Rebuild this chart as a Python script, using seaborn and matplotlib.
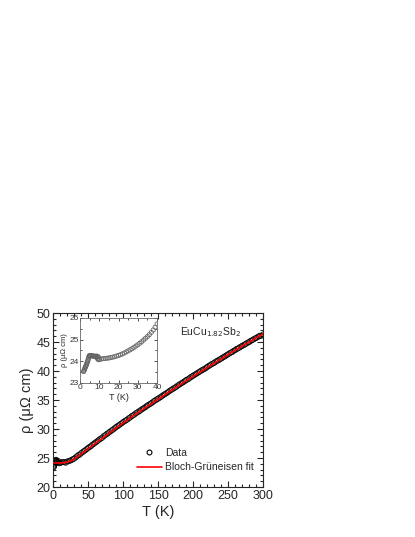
import numpy as np
import pandas as pd
import matplotlib
matplotlib.use("Agg")
import matplotlib.pyplot as plt
from matplotlib.ticker import MultipleLocator
from matplotlib.lines import Line2D
import seaborn as sns

# main panel: measured resistivity
data_T = [0.5, 1, 1.5, 2, 2.5, 3, 3.5, 4, 4.5, 5, 5.5, 6, 7, 8, 9, 10,
          12, 16, 20, 24, 28, 32, 36, 40, 44, 48, 52, 56, 60, 64, 68, 72,
          76, 80, 84, 88, 92, 96, 100, 104, 108, 112, 116, 120, 124, 128,
          132, 136, 140, 144, 148, 152, 156, 160, 164, 168, 172, 176, 180,
          184, 188, 192, 196, 200, 204, 208, 212, 216, 220, 224, 228, 232,
          236, 240, 244, 248, 252, 256, 260, 264, 268, 272, 276, 280, 284,
          288, 292, 296, 300]
data_rho = [23.4, 23.5, 23.7, 23.9, 24.1, 24.4, 24.6, 24.7, 24.6, 24.5, 24.4, 24.3, 24.2, 24.4, 24.1, 24.2,
            24.25, 24.3, 24.4, 24.55, 24.8, 25.1, 25.5, 25.85, 26.2, 26.55, 26.9, 27.3, 27.65, 28.0, 28.35, 28.75,
            29.1, 29.45, 29.8, 30.15, 30.5, 30.85, 31.2, 31.5, 31.85, 32.2, 32.5, 32.85, 33.15, 33.5,
            33.8, 34.15, 34.45, 34.8, 35.1, 35.4, 35.75, 36.05, 36.35, 36.7, 37.0, 37.3, 37.65,
            37.95, 38.25, 38.55, 38.9, 39.2, 39.5, 39.8, 40.1, 40.35, 40.7, 41.0, 41.3, 41.6,
            41.85, 42.15, 42.45, 42.75, 43.05, 43.3, 43.6, 43.9, 44.2, 44.45, 44.75, 45.0, 45.3,
            45.6, 45.85, 46.1, 46.3]
# second sweep, in between the points above
data2_T = [14, 18, 22, 26, 30, 34, 38, 42, 46, 50, 54, 58,
           62, 66, 70, 74, 78, 82, 86, 90, 94, 98, 102, 106,
           110, 114, 118, 122, 126, 130, 134, 138, 142, 146, 150, 154,
           158, 162, 166, 170, 174, 178, 182, 186, 190, 194, 198, 202,
           206, 210, 214, 218, 222, 226, 230, 234, 238, 242, 246, 250,
           254, 258, 262, 266, 270, 274, 278, 282, 286, 290, 294, 298]
data2_rho = [24.3, 24.2, 24.45, 24.65, 24.9, 25.3, 25.6, 26.0, 26.35, 26.75, 27.05, 27.45,
             27.8, 28.2, 28.5, 28.9, 29.25, 29.6, 29.95, 30.35, 30.65, 31.0, 31.35, 31.65,
             32.0, 32.35, 32.7, 33.0, 33.35, 33.65, 34.0, 34.3, 34.6, 34.95, 35.25, 35.55,
             35.9, 36.2, 36.55, 36.85, 37.15, 37.5, 37.8, 38.1, 38.45, 38.7, 39.05, 39.35,
             39.65, 39.95, 40.25, 40.5, 40.85, 41.15, 41.4, 41.75, 42.0, 42.3, 42.6, 42.9,
             43.2, 43.5, 43.8, 44.05, 44.35, 44.6, 44.9, 45.2, 45.45, 45.7, 46.0, 46.1]

# Bloch-Grueneisen fit curve
fit_T = [0, 5, 10, 15, 20, 25, 30, 35, 40, 50, 60, 70, 80, 90, 100, 120, 140,
         160, 180, 200, 220, 240, 260, 280, 300]
fit_rho = [24.15, 24.15, 24.16, 24.2, 24.3, 24.5, 24.85, 25.25, 25.7, 26.6, 27.5,
           28.4, 29.3, 30.2, 31.05, 32.75, 34.35, 35.95, 37.55, 39.1, 40.6, 42.1,
           43.6, 45.0, 46.45]

# inset: low temperature detail
inset_T = [1.8, 2.0, 2.2, 2.4, 2.6, 2.8, 3.0, 3.2, 3.4, 3.6, 3.8, 4.0, 4.2, 4.4,
           4.6, 4.8, 5.0, 5.4, 5.8, 6.2, 6.6, 7.0, 7.5, 8.0, 8.5, 9.0, 9.5, 10.0,
           8.5, 9.0, 9.5,
           11, 12, 13, 14, 15, 16, 17, 18, 19, 20, 21, 22, 23, 24, 25, 26, 27,
           28, 29, 30, 31, 32, 33, 34, 35, 36, 37, 38, 39, 40]
inset_rho = [23.52, 23.56, 23.6, 23.65, 23.7, 23.74, 23.78, 23.82, 23.87, 23.92, 23.97, 24.02, 24.08, 24.15,
             24.22, 24.25, 24.26, 24.26, 24.25, 24.25, 24.24, 24.24, 24.23, 24.22, 24.18, 24.12, 24.07, 24.08,
             24.24, 24.22, 24.2,
             24.1, 24.12, 24.13, 24.14, 24.15, 24.17, 24.19, 24.21, 24.24, 24.27, 24.3, 24.34, 24.38, 24.43,
             24.48, 24.53, 24.58, 24.64, 24.7, 24.76, 24.83, 24.9, 24.98, 25.06, 25.14, 25.23, 25.33,
             25.44, 25.57, 25.72]

sns.set_style("ticks")
plt.rcParams['font.family'] = ['Liberation Sans', 'DejaVu Sans']

main_df = pd.DataFrame({'T': data_T + data2_T, 'rho': data_rho + data2_rho})
fit_df = pd.DataFrame({'T': fit_T, 'rho': fit_rho})
inset_df = pd.DataFrame({'T': inset_T, 'rho': inset_rho})

fig = plt.figure(figsize=(4.15, 5.37), dpi=100)
ax = fig.add_axes([0.128, 0.093, 0.506, 0.324])

sns.scatterplot(data=main_df, x='T', y='rho', ax=ax, marker='o', s=14,
                facecolor='none', edgecolor='black', linewidth=0.5, zorder=2)
sns.lineplot(data=fit_df, x='T', y='rho', ax=ax, color='red', linewidth=1.2,
             zorder=3)

ax.set_xlim(0, 300)
ax.set_ylim(20, 50)
ax.xaxis.set_major_locator(MultipleLocator(50))
ax.xaxis.set_minor_locator(MultipleLocator(10))
ax.yaxis.set_major_locator(MultipleLocator(5))
ax.yaxis.set_minor_locator(MultipleLocator(1))
ax.tick_params(which='both', direction='in', top=True, right=True, width=0.8,
               labelsize=9, pad=2)
ax.tick_params(which='major', length=4)
ax.tick_params(which='minor', length=2)
for sp in ax.spines.values():
    sp.set_linewidth(0.8)
ax.set_xlabel('T (K)', fontsize=10.5, labelpad=2)
ax.set_ylabel('ρ (μΩ cm)', fontsize=10.5, labelpad=2)

ax.text(0.75, 0.89, 'EuCu$_{1.82}$Sb$_2$', transform=ax.transAxes,
        fontsize=7.5, ha='center', va='center')

handles = [Line2D([], [], marker='o', linestyle='none', markerfacecolor='none',
                  markeredgecolor='black', markersize=3.5, markeredgewidth=0.8),
           Line2D([], [], color='red', linewidth=1.2)]
ax.legend(handles, ['Data', 'Bloch-Grüneisen fit'], loc='lower left',
          bbox_to_anchor=(0.355, 0.03), frameon=False, fontsize=7.5,
          handlelength=2.35, handletextpad=0.3, labelspacing=0.45)

# inset
axi = fig.add_axes([0.193, 0.287, 0.1855, 0.121])
sns.scatterplot(data=inset_df, x='T', y='rho', ax=axi, marker='o', s=9,
                facecolor='none', edgecolor='#666666', linewidth=0.6)
axi.set_xlim(0, 40)
axi.set_ylim(23, 26)
axi.xaxis.set_major_locator(MultipleLocator(10))
axi.xaxis.set_minor_locator(MultipleLocator(5))
axi.yaxis.set_major_locator(MultipleLocator(1))
axi.yaxis.set_minor_locator(MultipleLocator(0.5))
axi.tick_params(which='both', direction='in', top=True, right=True, width=0.6,
                labelsize=6, pad=1, colors='#333333')
axi.tick_params(which='major', length=2.5)
axi.tick_params(which='minor', length=1.5)
for sp in axi.spines.values():
    sp.set_linewidth(0.6)
    sp.set_color('#666666')
axi.set_xlabel('T (K)', fontsize=6.5, labelpad=1)
axi.set_ylabel('ρ (μΩ cm)', fontsize=5.5, labelpad=1)

fig.savefig('out.png', dpi=100)
